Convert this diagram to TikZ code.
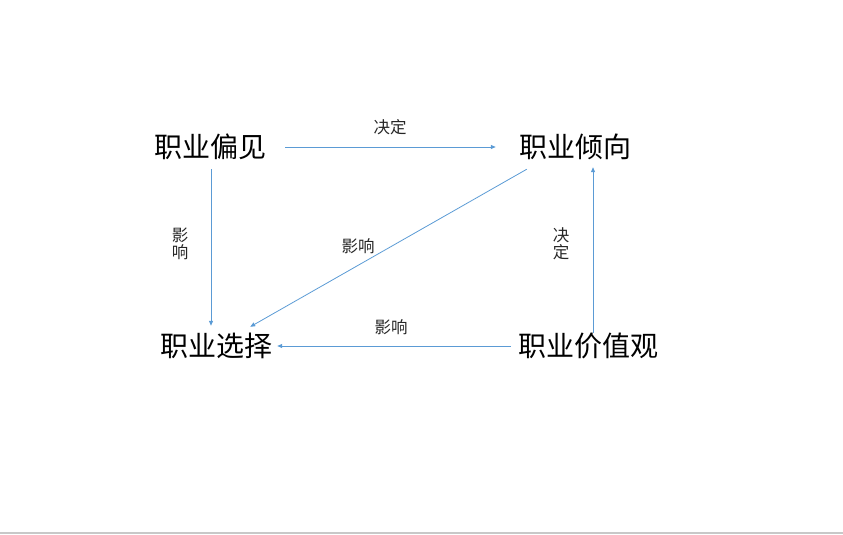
\documentclass[tikz,border=0pt]{standalone}
\usepackage{fontspec}
\newfontfamily\cjk{Noto Sans CJK SC}
\usetikzlibrary{calc,arrows.meta}
\definecolor{arrblue}{HTML}{5B9BD5}
\definecolor{rulegray}{HTML}{C8C8C8}
\tikzset{
  big/.style={inner sep=0pt, font=\cjk\fontsize{28}{32}\selectfont, text height=24pt, text depth=4pt},
  lbl/.style={inner sep=0pt, font=\cjk\fontsize{16.5}{17}\selectfont, text=black!85, align=center},
  arr/.style={draw=arrblue, line width=0.8pt, -{Triangle[length=5pt,width=4pt]}}
}
\begin{document}
\begin{tikzpicture}[x=1pt,y=-1pt]
\useasboundingbox (0,0) rectangle (843,535);
\draw[rulegray, line width=1.5pt] (0,533) -- (843,533);
\node[big] (pj) at (210,147) {职业偏见};
\node[big] (qx) at (575,147) {职业倾向};
\node[big] (xz) at (216,346) {职业选择};
\node[big] (jz) at (588,346) {职业价值观};
% top
\draw[arr, shorten <=19pt, shorten >=23pt] (pj.east) -- (qx.west);
\node[lbl] (l1) at (390,127) {决定};
% left vertical
\draw[arr, shorten <=8pt, shorten >=6pt] ([xshift=1pt]pj.south) -- ([xshift=1pt]pj.south |- xz.north);
\node[lbl] (l2) at (180,244) {影\\响};
% diagonal
\draw[arr] ([xshift=8pt,yshift=-8pt]qx.south west) -- ([xshift=-22pt,yshift=5pt]xz.north east);
\node[lbl] (l3) at (358,246) {影响};
% bottom
\draw[arr, shorten <=7pt, shorten >=5pt] (jz.west) -- (xz.east);
\node[lbl] (l4) at (391,327) {影响};
% right vertical
\draw[arr, shorten <=-1pt, shorten >=6pt] ([xshift=5pt]jz.north) -- ([xshift=5pt]jz.north |- qx.south);
\node[lbl] (l5) at (561,244) {决\\定};
\end{tikzpicture}
\end{document}
